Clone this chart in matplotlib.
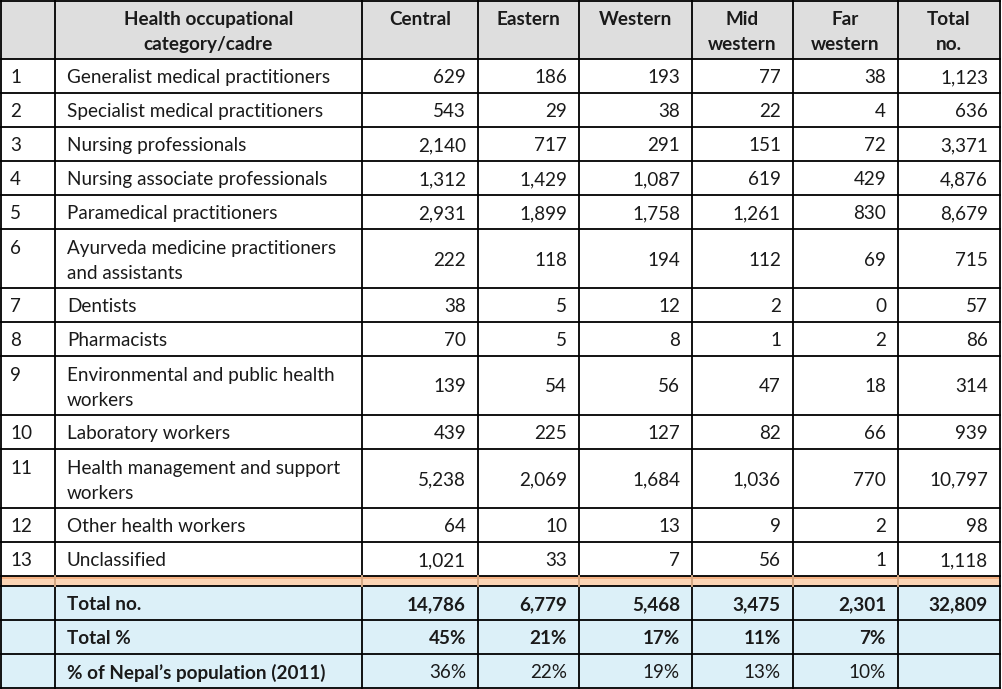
import matplotlib
matplotlib.use("Agg")
import matplotlib.pyplot as plt
from matplotlib.patches import Rectangle

plt.rcParams['font.family'] = ['Lato', 'DejaVu Sans']

headers = ["", "Health occupational\ncategory/cadre", "Central", "Eastern", "Western",
           "Mid\nwestern", "Far\nwestern", "Total\nno."]
row_nums = ["1", "2", "3", "4", "5", "6", "7", "8", "9", "10", "11", "12", "13"]
categories = ["Generalist medical practitioners",
              "Specialist medical practitioners",
              "Nursing professionals",
              "Nursing associate professionals",
              "Paramedical practitioners",
              "Ayurveda medicine practitioners\nand assistants",
              "Dentists",
              "Pharmacists",
              "Environmental and public health\nworkers",
              "Laboratory workers",
              "Health management and support\nworkers",
              "Other health workers",
              "Unclassified"]
central = [629, 543, 2140, 1312, 2931, 222, 38, 70, 139, 439, 5238, 64, 1021]
eastern = [186, 29, 717, 1429, 1899, 118, 5, 5, 54, 225, 2069, 10, 33]
western = [193, 38, 291, 1087, 1758, 194, 12, 8, 56, 127, 1684, 13, 7]
mid_western = [77, 22, 151, 619, 1261, 112, 2, 1, 47, 82, 1036, 9, 56]
far_western = [38, 4, 72, 429, 830, 69, 0, 2, 18, 66, 770, 2, 1]
total_no = [1123, 636, 3371, 4876, 8679, 715, 57, 86, 314, 939, 10797, 98, 1118]

summary_labels = ["Total no.", "Total %", "% of Nepal\u2019s population (2011)"]
summary_total_no = [14786, 6779, 5468, 3475, 2301, 32809]
summary_total_pct = ["45%", "21%", "17%", "11%", "7%", ""]
summary_pop_pct = ["36%", "22%", "19%", "13%", "10%", ""]

# layout (pixels)
W, H = 1002, 689
col_x = [1, 55, 362, 478, 579, 692, 793, 898, 1000]
header_y = (1, 59)
row_y = [59, 93, 127, 161, 195, 229, 288, 322, 356, 415, 449, 508, 542, 576]
band_y = (576, 586)
sum_y = [586, 620, 654, 688]
line_gap = 25
first_line = 17

fig = plt.figure(figsize=(W / 100, H / 100), dpi=100)
ax = fig.add_axes([0, 0, 1, 1])
ax.set_xlim(0, W)
ax.set_ylim(H, 0)
ax.axis('off')

txt_color = '#1a1a1a'
fs = 13.6
lw = 1.3

def put(x, y, s, ha, bold=False):
    for k, line in enumerate(s.split('\n')):
        ax.text(x, y + k * line_gap, line, ha=ha, va='center_baseline', fontsize=fs,
                fontweight='bold' if bold else 'normal', color=txt_color, zorder=4)

# backgrounds
ax.add_patch(Rectangle((col_x[0], header_y[0]), col_x[-1] - col_x[0], header_y[1] - header_y[0],
                       facecolor='#dedede', edgecolor='none', zorder=0))
ax.add_patch(Rectangle((col_x[0], band_y[0]), col_x[-1] - col_x[0], band_y[1] - band_y[0],
                       facecolor='#fbd4b4', edgecolor='none', zorder=0))
ax.add_patch(Rectangle((col_x[0], band_y[0]), col_x[-1] - col_x[0], 3,
                       facecolor='#f4b183', edgecolor='none', zorder=0))
ax.add_patch(Rectangle((col_x[0], sum_y[0]), col_x[-1] - col_x[0], sum_y[-1] - sum_y[0],
                       facecolor='#dcf0f8', edgecolor='none', zorder=0))

# horizontal lines
for y in [header_y[0]] + row_y + sum_y:
    ax.plot([col_x[0], col_x[-1]], [y, y], color='black', lw=lw, zorder=2,
            solid_capstyle='projecting')
# vertical lines
for x in col_x:
    ax.plot([x, x], [header_y[0], sum_y[-1]], color='black', lw=lw, zorder=2,
            solid_capstyle='projecting')
for x in col_x[1:-1]:
    ax.plot([x, x], [band_y[0], band_y[1]], color='#e8b890', lw=lw, zorder=3)

# header text
for i, h in enumerate(headers):
    if not h:
        continue
    cx = (col_x[i] + col_x[i + 1]) / 2
    put(cx, header_y[0] + first_line, h, 'center', bold=True)

def fmt(v):
    return f"{v:,}"

series = [central, eastern, western, mid_western, far_western, total_no]
for r in range(len(categories)):
    y0, y1 = row_y[r], row_y[r + 1]
    cy = (y0 + y1) / 2
    two = '\n' in categories[r]
    ty = y0 + 18 if two else cy
    put(col_x[0] + 9, ty, row_nums[r], 'left')
    put(col_x[1] + 12, ty, categories[r], 'left')
    for c, s in enumerate(series):
        put(col_x[c + 3] - 12, cy, fmt(s[r]), 'right')

sum_vals = [[fmt(v) for v in summary_total_no], summary_total_pct, summary_pop_pct]
bold_vals = [True, True, False]
for r in range(3):
    cy = (sum_y[r] + sum_y[r + 1]) / 2
    put(col_x[1] + 12, cy, summary_labels[r], 'left', bold=True)
    for c, v in enumerate(sum_vals[r]):
        if v:
            put(col_x[c + 3] - 12, cy, v, 'right', bold=bold_vals[r])

fig.savefig('out.png', dpi=100)
